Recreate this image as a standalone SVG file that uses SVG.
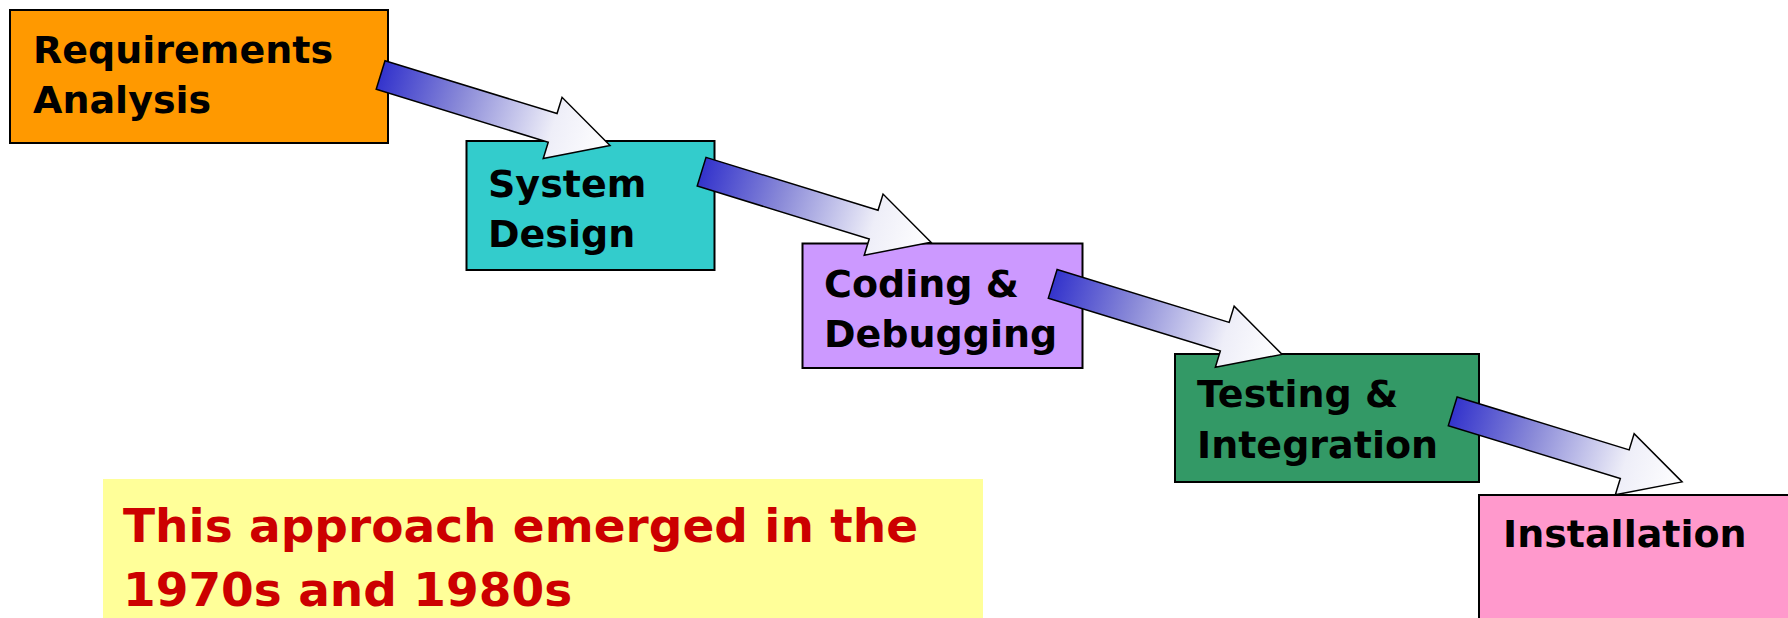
<svg xmlns="http://www.w3.org/2000/svg" width="1788" height="618" viewBox="0 0 1788 618">
  <defs>
    <style>
      .box { stroke: #000; stroke-width: 2; }
      .label { font-family: "DejaVu Sans", Verdana, sans-serif; font-weight: bold; font-size: 38px; fill: #000; }
      .note { font-family: "DejaVu Sans", Verdana, sans-serif; font-weight: bold; font-size: 47px; fill: #CC0000; }
      .flow { fill: url(#flowFill); stroke: #000; stroke-width: 1.5; stroke-linejoin: miter; }
    </style>
    <linearGradient id="flowFill" x1="0" y1="0" x2="1" y2="0">
      <stop offset="0" stop-color="#3333CC"/>
      <stop offset="0.35" stop-color="#8A8AD8"/>
      <stop offset="0.75" stop-color="#EEEEF8"/>
      <stop offset="1" stop-color="#FFFFFF"/>
    </linearGradient>
    <!-- block arrow, tail centre at origin, pointing along +x -->
    <path id="blockArrow" class="flow" d="M0,-15 L180,-15 L180,-32 L240,0 L180,32 L180,15 L0,15 Z"/>
  </defs>

  <rect width="1788" height="618" fill="#FFFFFF"/>

  <g id="node-requirements">
    <rect class="box" x="10" y="10" width="378" height="133" fill="#FF9900"/>
    <text class="label" x="33" y="63">Requirements</text>
    <text class="label" x="33" y="113">Analysis</text>
  </g>

  <g id="node-design">
    <rect class="box" x="466.5" y="141" width="248" height="129" fill="#33CCCC"/>
    <text class="label" x="488" y="197">System</text>
    <text class="label" x="488" y="247">Design</text>
  </g>

  <g id="node-coding">
    <rect class="box" x="802.5" y="243.5" width="280" height="124.5" fill="#CC99FF"/>
    <text class="label" x="824" y="297">Coding &amp;</text>
    <text class="label" x="824" y="347">Debugging</text>
  </g>

  <g id="node-testing">
    <rect class="box" x="1175" y="354" width="304" height="128" fill="#339966"/>
    <text class="label" x="1197" y="407">Testing &amp;</text>
    <text class="label" x="1197" y="458">Integration</text>
  </g>

  <g id="node-installation">
    <rect class="box" x="1479" y="495" width="330" height="150" fill="#FF99CC"/>
    <text class="label" x="1503" y="547">Installation</text>
  </g>

  <g id="connectors">
    <use href="#blockArrow" transform="translate(380.6,75) rotate(17.1)"/>
    <use href="#blockArrow" transform="translate(701.6,171.7) rotate(17.1)"/>
    <use href="#blockArrow" transform="translate(1052.7,283.8) rotate(17.1)"/>
    <use href="#blockArrow" transform="translate(1452.7,411.3) rotate(17.1)"/>
  </g>

  <g id="note">
    <rect x="103" y="479" width="880" height="150" fill="#FFFF99"/>
    <text class="note" x="123" y="542">This approach emerged in the</text>
    <text class="note" x="123" y="606">1970s and 1980s</text>
  </g>
</svg>
